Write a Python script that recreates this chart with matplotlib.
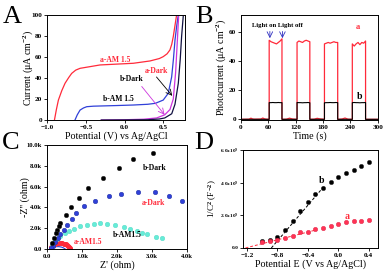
import matplotlib
matplotlib.use('Agg')
import matplotlib.pyplot as plt
from matplotlib.ticker import FuncFormatter

plt.rcParams['font.family'] = ['Liberation Serif', 'DejaVu Serif']
plt.rcParams['font.weight'] = 'bold'
plt.rcParams['mathtext.fontset'] = 'custom'
plt.rcParams['mathtext.rm'] = 'Liberation Serif:bold'
plt.rcParams['mathtext.it'] = 'Liberation Serif:bold'
plt.rcParams['mathtext.bf'] = 'Liberation Serif:bold'
plt.rcParams['axes.linewidth'] = 0.7

# ── Panel A: LSV curves ──────────────────────────────────────────────────────
a_am_x = [-0.905, -0.88, -0.854, -0.81, -0.768, -0.72, -0.682, -0.63, -0.574, -0.445,
          -0.316, -0.1, 0.114, 0.329, 0.45, 0.50, 0.55, 0.587, 0.61, 0.63, 0.65, 0.673]
a_am_y = [0, 10, 19, 28, 35, 40.5, 44.4, 47.5, 49.2, 50.8,
          52.4, 53.2, 54, 56.2, 58.5, 60.3, 63, 66.7, 72, 79.4, 89, 100]
b_am_x = [-0.64, -0.61, -0.574, -0.53, -0.488, -0.40, -0.30, -0.1, 0.114, 0.30, 0.398,
          0.50, 0.565, 0.609, 0.632, 0.652, 0.675, 0.695]
b_am_y = [0, 5, 9.5, 11.5, 12.7, 13.2, 13.4, 13.8, 14.3, 15.0, 15.9,
          19, 25.4, 41, 58, 76, 90, 100]
b_dark_x = [-0.30, 0.0, 0.25, 0.415, 0.52, 0.587, 0.63, 0.66, 0.68, 0.70]
b_dark_y = [0, 0.3, 0.8, 2, 5, 10, 20, 45, 72, 100]
a_dark_x = [-0.30, 0.0, 0.30, 0.45, 0.52, 0.61, 0.652, 0.695, 0.72, 0.738, 0.76]
a_dark_y = [0, 0.1, 0.3, 1.0, 2, 6, 15, 35, 58, 80, 100]

# ── Panel B: chopped-light photocurrent ─────────────────────────────────────
on_start = [62, 123, 183, 244]
on_end = [90, 151, 212, 273]
red_plateau = [[54.5, 53.5, 53, 52.5, 52, 53, 54, 55.5],
               [53, 54, 53.5, 53, 54, 54.5, 54, 53.5],
               [52, 52.5, 53, 52.5, 53, 53.5, 53, 53],
               [52, 50.5, 52, 53, 51.5, 53, 52.5, 54]]
blk_plateau = [[11.5, 11.5, 11.6, 11.5, 11.5, 11.6, 11.5, 11.5],
               [11.6, 11.5, 11.5, 11.4, 11.5, 11.5, 11.6, 11.4],
               [11.4, 11.5, 11.5, 11.6, 11.5, 11.5, 11.6, 11.5],
               [11.5, 11.6, 11.5, 11.5, 11.4, 11.5, 11.5, 11.6]]
dark_t = [0, 18, 22, 26, 30, 44, 48, 52, 56]
dark_red = [0, 0.1, 0.8, 0.2, 0.1, 0.2, 0.9, 0.3, 0.1]
gap_red = [[0.1, 0.8, 0.2], [0.1, 0.7, 0.3], [0.2, 0.9, 0.1]]

# ── Panel C: Nyquist ────────────────────────────────────────────────────────
bdark_zr = [3030, 2460, 2070, 1590, 1160, 900, 690, 540, 380, 330, 290, 250, 190, 140]
bdark_zi = [9270, 8660, 7760, 6870, 5850, 4890, 4060, 3290, 2500, 2170, 1850, 1530, 1050, 580]
adark_zr = [3860, 3500, 3080, 2590, 2110, 1760, 1360, 1050, 840, 700, 570, 480, 380, 300,
            240, 170, 120]
adark_zi = [4630, 5110, 5460, 5530, 5300, 5050, 4570, 4090, 3450, 2880, 2330, 1850, 1440,
            1050, 670, 320, 100]
bam_zr = [3290, 3120, 2860, 2710, 2570, 2380, 2190, 1950, 1710, 1520, 1330, 1140, 950, 760,
          620, 500, 380, 290, 210, 150]
bam_zi = [1050, 1150, 1440, 1530, 1690, 1920, 2110, 2270, 2400, 2460, 2400, 2330, 2170, 1950,
          1760, 1530, 1280, 990, 670, 320]
aam_zr = [100, 110, 125, 145, 170, 200, 235, 270, 310, 350, 390, 430, 470, 510, 545, 580,
          610, 635, 655, 665]
aam_zi = [0, 120, 220, 310, 390, 450, 500, 535, 555, 565, 565, 555, 530, 490, 440, 370,
          290, 200, 100, 0]
small_zr = [100, 140, 200, 270, 340, 410, 470, 520]
small_zi = [0, 110, 190, 230, 230, 190, 110, 0]

# ── Panel D: Mott-Schottky ──────────────────────────────────────────────────
ms_E = [-1.0, -0.9, -0.8, -0.7, -0.6, -0.5, -0.4, -0.3, -0.2, -0.1, 0.0, 0.1, 0.2, 0.3, 0.4]
ms_b = [0.45, 0.47, 0.68, 1.08, 1.65, 2.25, 2.80, 3.28, 3.68, 4.06, 4.35, 4.58, 4.80, 5.05, 5.30]
ms_a = [0.36, 0.40, 0.46, 0.64, 0.76, 0.97, 1.00, 1.15, 1.25, 1.37, 1.50, 1.57, 1.65, 1.65, 1.69]
fit_b_x, fit_b_y = [-0.88, -0.18], [0.0, 3.82]
fit_a_x, fit_a_y = [-1.22, -0.28], [0.0, 1.12]

RED, BLUE, MAG = '#ff2a3a', '#3040d8', '#cc33dd'
TFS, LFS = 5.2, 7.2

fig = plt.figure(figsize=(3.86, 2.71), dpi=100)


def style(ax, size=TFS):
    ax.tick_params(direction='out', length=2, width=0.6, labelsize=size, pad=1.5)
    for lab in ax.get_xticklabels() + ax.get_yticklabels():
        lab.set_fontweight('bold')


# A
axA = fig.add_axes([0.122, 0.557, 0.357, 0.388])
axA.plot(a_am_x, a_am_y, color=RED, lw=0.9)
axA.plot(b_am_x, b_am_y, color=BLUE, lw=0.9)
axA.plot(b_dark_x, b_dark_y, color=MAG, lw=0.9)
axA.plot(a_dark_x, a_dark_y, color='#101040', lw=0.9)
axA.set_xlim(-1.0, 0.78)
axA.set_ylim(0, 100)
axA.set_xticks([-1.0, -0.5, 0.0, 0.5])
axA.set_yticks([0, 20, 40, 60, 80, 100])
axA.set_xlabel('Potential (V) vs Ag/AgCl', fontsize=LFS, labelpad=1)
axA.set_ylabel('Current (μA cm$^{-2}$)', fontsize=LFS)
axA.yaxis.set_label_coords(-0.085, 0.5)
axA.text(-0.12, 57, 'a-AM 1.5', color=RED, fontsize=5.5, ha='center', va='center')
axA.text(-0.08, 20, 'b-AM 1.5', color='black', fontsize=5.5, ha='center', va='center')
axA.text(0.09, 39, 'b-Dark', color='black', fontsize=5.5, ha='center', va='center')
axA.text(0.41, 47, 'a-Dark', color=RED, fontsize=5.5, ha='center', va='center')
axA.annotate('', xy=(0.64, 21), xytext=(0.39, 43),
             arrowprops=dict(arrowstyle='->', color='black', lw=0.6))
axA.annotate('', xy=(0.54, 3), xytext=(0.2, 34),
             arrowprops=dict(arrowstyle='->', color=MAG, lw=0.6))
style(axA)

# B
axB = fig.add_axes([0.624, 0.557, 0.355, 0.388])
t_red, y_red, t_blk, y_blk = list(dark_t), list(dark_red), [0], [0]
for i, (s, e) in enumerate(zip(on_start, on_end)):
    n = len(red_plateau[i])
    ts = [s + (e - s) * k / (n - 1) for k in range(n)]
    t_red += [s] + ts + [e]
    y_red += [0] + red_plateau[i] + [0]
    t_blk += [s] + ts + [e]
    y_blk += [0] + blk_plateau[i] + [0]
    if i < len(gap_red):
        nxt = on_start[i + 1]
        t_red += [e + (nxt - e) * f for f in (0.3, 0.5, 0.7)]
        y_red += gap_red[i]
t_red += [300]
y_red += [0]
t_blk += [300]
y_blk += [0]
axB.plot(t_red, y_red, color=RED, lw=0.9)
axB.plot(t_blk, y_blk, color='black', lw=0.8)
axB.set_xlim(0, 300)
axB.set_ylim(-0.5, 72)
axB.set_xticks([0, 60, 120, 180, 240, 300])
axB.set_yticks([0, 20, 40, 60])
axB.set_xlabel('Time (s)', fontsize=LFS, labelpad=1)
axB.set_ylabel('Photocurrent (μA cm$^{-2}$)', fontsize=LFS)
axB.yaxis.set_label_coords(-0.095, 0.5)
axB.text(81, 65, 'Light on Light off', fontsize=4.8, ha='center', va='center')
for tx in (63.5, 91):
    axB.annotate('', xy=(tx, 54), xytext=(tx, 62.5),
                 arrowprops=dict(arrowstyle='->', color='#3030c0', lw=0.6))
axB.text(257, 64, 'a', color=RED, fontsize=6, ha='center', va='center')
axB.text(260, 15.6, 'b', color='black', fontsize=7, ha='center', va='center')
style(axB)

# C
axC = fig.add_axes([0.122, 0.081, 0.362, 0.384])
ms = 3.3
axC.plot(small_zr, small_zi, '-', color=BLUE, lw=0.8)
axC.plot(aam_zr, aam_zi, 'o', color=RED, ms=2.6, mec=RED)
axC.plot(aam_zr, aam_zi, '-', color=RED, lw=1.4)
axC.plot(bam_zr, bam_zi, 'o', color='#66ecd8', ms=ms, mec='#55d8c4', mew=0.3)
axC.plot(adark_zr, adark_zi, 'o', color=BLUE, ms=ms, mec='#1a2a9a', mew=0.3)
axC.plot(bdark_zr, bdark_zi, 'o', color='black', ms=ms, mec='#333333', mew=0.3)
axC.set_xlim(0, 4000)
axC.set_ylim(0, 10000)
axC.set_xticks([0, 1000, 2000, 3000, 4000])
axC.set_yticks([0, 2000, 4000, 6000, 8000, 10000])
kfmt = FuncFormatter(lambda v, p: '0.0' if v == 0 else f'{v / 1000:.1f}k')
axC.xaxis.set_major_formatter(kfmt)
axC.yaxis.set_major_formatter(kfmt)
axC.set_xlabel("Z' (ohm)", fontsize=LFS, labelpad=1)
axC.set_ylabel("-Z'' (ohm)", fontsize=LFS)
axC.yaxis.set_label_coords(-0.125, 0.5)
axC.text(3070, 7760, 'b-Dark', color='black', fontsize=5.5, ha='center', va='center')
axC.text(3030, 4410, 'a-Dark', color=RED, fontsize=5.5, ha='center', va='center')
axC.text(2290, 1370, 'b-AM1.5', color='black', fontsize=5.5, ha='center', va='center')
axC.text(1160, 670, 'a-AM1.5', color=RED, fontsize=5.5, ha='center', va='center')
style(axC, 4.8)

# D
axD = fig.add_axes([0.630, 0.085, 0.349, 0.361])
axD.plot(fit_b_x, fit_b_y, '--', color='black', lw=0.7, dashes=(3, 2))
axD.plot(fit_a_x, fit_a_y, '--', color=RED, lw=0.7, dashes=(3, 2))
axD.plot(ms_E, ms_b, 'o', color='black', ms=3.2, mec='#333333', mew=0.3)
axD.plot(ms_E, ms_a, 'o', color='#ff3355', ms=3.2, mec='#dd2244', mew=0.3)
axD.set_xlim(-1.25, 0.52)
axD.set_ylim(0, 6.0)
axD.set_xticks([-1.2, -0.8, -0.4, 0.0, 0.4])
axD.set_yticks([0, 2, 4, 6])
axD.yaxis.set_major_formatter(FuncFormatter(
    lambda v, p: '0.0' if v == 0 else f'{v:.1f}x10$^{{9}}$'))
axD.set_xlabel('Potential E (V vs Ag/AgCl)', fontsize=LFS, labelpad=1)
axD.set_ylabel('1/C$^{2}$ (F$^{-2}$)', fontsize=6.6)
axD.yaxis.set_label_coords(-0.18, 0.5)
axD.text(-0.22, 4.12, 'b', color='black', fontsize=7, ha='center', va='center')
axD.text(0.11, 1.91, 'a', color=RED, fontsize=7, ha='center', va='center')
style(axD)
axD.tick_params(axis='y', labelsize=3.9, pad=1)

# panel letters
for lx, ly, L in [(0.008, 0.937, 'A'), (0.505, 0.937, 'B'),
                  (0.005, 0.472, 'C'), (0.503, 0.472, 'D')]:
    fig.text(lx, ly, L, fontsize=19, fontweight='normal', va='center')

fig.savefig('out.png', dpi=100)
